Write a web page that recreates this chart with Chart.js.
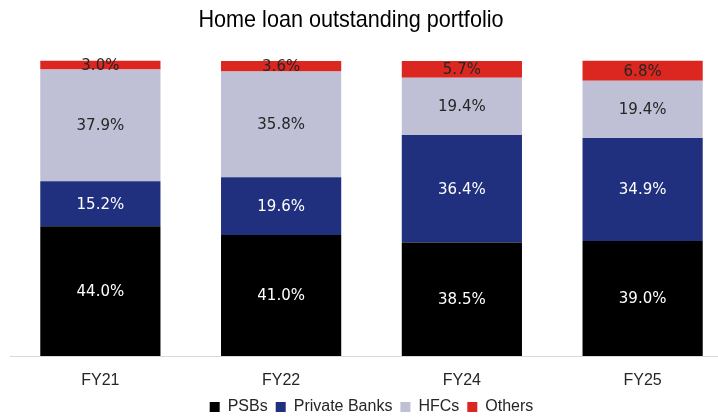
<!DOCTYPE html>
<html>
<head>
<meta charset="utf-8">
<script src="https://cdn.jsdelivr.net/npm/chart.js@4.4.1/dist/chart.umd.min.js"></script>
<style>
  html, body { margin: 0; padding: 0; background: #fff; overflow: hidden; }
  #wrap { width: 718px; height: 420px; overflow: hidden; }
</style>
</head>
<body>
<div id="wrap"><canvas id="chart" width="733" height="420"></canvas></div>
<script>
const years = ['FY21', 'FY22', 'FY24', 'FY25'];
const psbs = [44.0, 41.0, 38.5, 39.0];
const privateBanks = [15.2, 19.6, 36.4, 34.9];
const hfcs = [37.9, 35.8, 19.4, 19.4];
const others = [3.0, 3.6, 5.7, 6.8];

const font = '"Liberation Sans", Arial, sans-serif';

// draws the title and the % labels inside each segment
const labelsPlugin = {
    id: 'segLabels',
    afterLayout(chart) {
        // legend sits closer to the category labels than chart.js allows
        chart.legend.top -= 7;
        chart.legend.bottom -= 7;
    },
    afterDatasetsDraw(chart) {
        const ctx = chart.ctx;
        ctx.save();
        ctx.textAlign = 'center';
        ctx.textBaseline = 'middle';
        ctx.font = '15px "DejaVu Sans", sans-serif';
        chart.data.datasets.forEach((ds, i) => {
            const meta = chart.getDatasetMeta(i);
            meta.data.forEach((bar, j) => {
                const p = bar.getCenterPoint();
                ctx.fillStyle = ds.labelColor;
                ctx.fillText(ds.data[j].toFixed(1) + '%', p.x, p.y + 1);
            });
        });
        // title is a condensed face in the original, squeeze it to the same width
        const title = 'Home loan outstanding portfolio';
        ctx.font = '24px ' + font;
        const w = ctx.measureText(title).width;
        ctx.translate(351, 20);
        ctx.scale(305 / w, 1);
        ctx.fillStyle = '#000';
        ctx.fillText(title, 0, 0);
        ctx.restore();
    }
};

new Chart(document.getElementById('chart'), {
    type: 'bar',
    data: {
        labels: years,
        datasets: [
            { label: 'PSBs', data: psbs, backgroundColor: '#000000', labelColor: '#ffffff' },
            { label: 'Private Banks', data: privateBanks, backgroundColor: '#20307e', labelColor: '#ffffff' },
            { label: 'HFCs', data: hfcs, backgroundColor: '#bfbfd5', labelColor: '#262626' },
            { label: 'Others', data: others, backgroundColor: '#dc2620', labelColor: '#262626' }
        ]
    },
    options: {
        responsive: false,
        animation: false,
        layout: { padding: { left: 10, right: 0, top: 61, bottom: -12 } },
        datasets: { bar: { categoryPercentage: 1, barPercentage: 0.665, clip: false } },
        scales: {
            x: {
                stacked: true,
                grid: { display: false },
                border: { color: '#d9d9d9', width: 1 },
                ticks: { color: '#262626', font: { family: font, size: 16, lineHeight: 1 }, padding: 9 }
            },
            y: {
                stacked: true,
                display: false,
                min: 0,
                max: 100
            }
        },
        plugins: {
            legend: {
                position: 'bottom',
                labels: {
                    color: '#262626',
                    font: { family: font, size: 16 },
                    boxWidth: 10,
                    boxHeight: 10,
                    padding: 8
                }
            },
            tooltip: { enabled: false }
        }
    },
    plugins: [labelsPlugin]
});
</script>
</body>
</html>
